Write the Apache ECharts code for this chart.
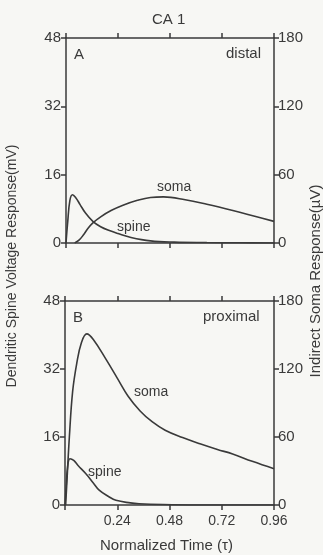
<!DOCTYPE html>
<html>
<head>
<meta charset="utf-8">
<script src="https://cdn.jsdelivr.net/npm/echarts@6/dist/echarts.min.js"></script>
<style>
  html, body { margin: 0; padding: 0; background: #f7f7f4; }
  #chart { width: 323px; height: 555px; }
</style>
</head>
<body>
<div id="chart"></div>
<script>
// x ticks (normalized time) and y ticks for both panels
const timeTicks = [0, 0.24, 0.48, 0.72, 0.96]
const leftTicks = [0, 16, 32, 48]     // spine voltage, mV
const rightTicks = [0, 60, 120, 180]  // soma response, µV

// panel A (distal)
const spineATime = [0, 0.008, 0.018, 0.03, 0.045, 0.065, 0.09, 0.125, 0.16, 0.2, 0.24, 0.3, 0.39, 0.5, 0.65, 0.8, 0.96]
const spineAVal = [0, 5, 10, 11.3, 10.6, 9, 7, 5.0, 3.8, 2.9, 2.2, 1.3, 0.5, 0.2, 0.1, 0.05, 0]
const somaATime = [0.04, 0.06, 0.08, 0.1, 0.123, 0.16, 0.208, 0.26, 0.33, 0.39, 0.45, 0.55, 0.65, 0.77, 0.88, 0.96]
const somaAVal = [0, 2.5, 7, 12.5, 17.5, 23, 28.5, 33, 37.5, 40, 40.5, 38, 34, 28.5, 23, 19]

// panel B (proximal)
const spineBTime = [0, 0.005, 0.012, 0.023, 0.04, 0.06, 0.095, 0.13, 0.157, 0.2, 0.234, 0.3, 0.34, 0.45, 0.6, 0.8, 0.96]
const spineBVal = [0, 4, 9, 10.9, 10.5, 9.3, 7.4, 5.2, 3.5, 2, 1.1, 0.5, 0.3, 0.1, 0, 0, 0]
const somaBTime = [0.003, 0.01, 0.02, 0.035, 0.054, 0.075, 0.1, 0.13, 0.19, 0.24, 0.29, 0.345, 0.4, 0.46, 0.54, 0.62, 0.7, 0.77, 0.86, 0.96]
const somaBVal = [0, 25, 60, 100, 125, 143, 151, 146, 128, 112, 96, 83, 73.5, 66, 59.5, 54, 49, 45, 38.5, 32]

const ink = '#3a3a3a'
const font = 'Liberation Sans, Arial, sans-serif'
const pair = (xs, ys) => xs.map((x, i) => [x, ys[i]])

const chart = echarts.init(document.getElementById('chart'))

const grids = [
  { left: 66, right: 49, top: 38, height: 205 },
  { left: 65, right: 49, top: 301, height: 204 },
]

const xAxisBase = (gridIndex, position, showLabel) => ({
  type: 'value', gridIndex, position, min: timeTicks[0], max: timeTicks[timeTicks.length - 1], interval: 0.24,
  axisLine: { show: true, onZero: false, lineStyle: { color: ink, width: 1.5 } },
  axisTick: { show: true, length: 5, lineStyle: { color: ink, width: 1.5 } },
  axisLabel: {
    show: showLabel, color: ink, fontSize: 14, fontFamily: font, margin: 9,
    formatter: (v) => (v === 0 ? '' : v.toFixed(2)),
  },
  splitLine: { show: false },
})

const yAxisBase = (gridIndex, position, ticks) => ({
  type: 'value', gridIndex, position, min: ticks[0], max: ticks[ticks.length - 1],
  interval: ticks[1] - ticks[0],
  axisLine: { show: true, onZero: false, lineStyle: { color: ink, width: 1.5 } },
  axisTick: { show: true, length: 5, lineStyle: { color: ink, width: 1.5 } },
  axisLabel: { color: ink, fontSize: 15, fontFamily: font, margin: position === 'left' ? 5 : 4 },
  splitLine: { show: false },
})

const lineSeries = (xAxisIndex, yAxisIndex, data) => ({
  type: 'line', xAxisIndex, yAxisIndex, data, smooth: 0.4, showSymbol: false,
  lineStyle: { color: ink, width: 1.6 }, silent: true,
})

const text = (left, top, str, size = 14) => ({
  type: 'text', left, top,
  style: { text: str, fill: ink, font: `${size}px ${font}` },
})

chart.setOption({
  backgroundColor: '#f7f7f4',
  animation: false,
  grid: grids,
  xAxis: [
    xAxisBase(0, 'bottom', false),
    xAxisBase(0, 'top', false),
    xAxisBase(1, 'bottom', true),
    xAxisBase(1, 'top', false),
  ],
  yAxis: [
    yAxisBase(0, 'left', leftTicks),
    yAxisBase(0, 'right', rightTicks),
    yAxisBase(1, 'left', leftTicks),
    yAxisBase(1, 'right', rightTicks),
  ],
  series: [
    lineSeries(0, 0, pair(spineATime, spineAVal)),
    lineSeries(0, 1, pair(somaATime, somaAVal)),
    lineSeries(2, 2, pair(spineBTime, spineBVal)),
    lineSeries(2, 3, pair(somaBTime, somaBVal)),
  ],
  graphic: [
    text(152, 12, 'CA 1', 15),
    text(74, 47, 'A', 15),
    text(226, 46, 'distal', 15),
    text(157, 180, 'soma'),
    text(117, 220, 'spine'),
    text(73, 310, 'B', 15),
    text(203, 309, 'proximal', 15),
    text(134, 385, 'soma'),
    text(88, 465, 'spine'),
    text(100, 538, 'Normalized Time (τ)', 15),
    {
      type: 'text', x: 12, y: 266, rotation: Math.PI / 2,
      style: { text: 'Dendritic Spine Voltage Response(mV)', fill: ink, font: `14px ${font}`, align: 'center', verticalAlign: 'middle' },
    },
    {
      type: 'text', x: 316, y: 281, rotation: Math.PI / 2,
      style: { text: 'Indirect Soma Response(µV)', fill: ink, font: `15px ${font}`, align: 'center', verticalAlign: 'middle' },
    },
  ],
})

window.addEventListener('resize', () => chart.resize())
</script>
</body>
</html>
